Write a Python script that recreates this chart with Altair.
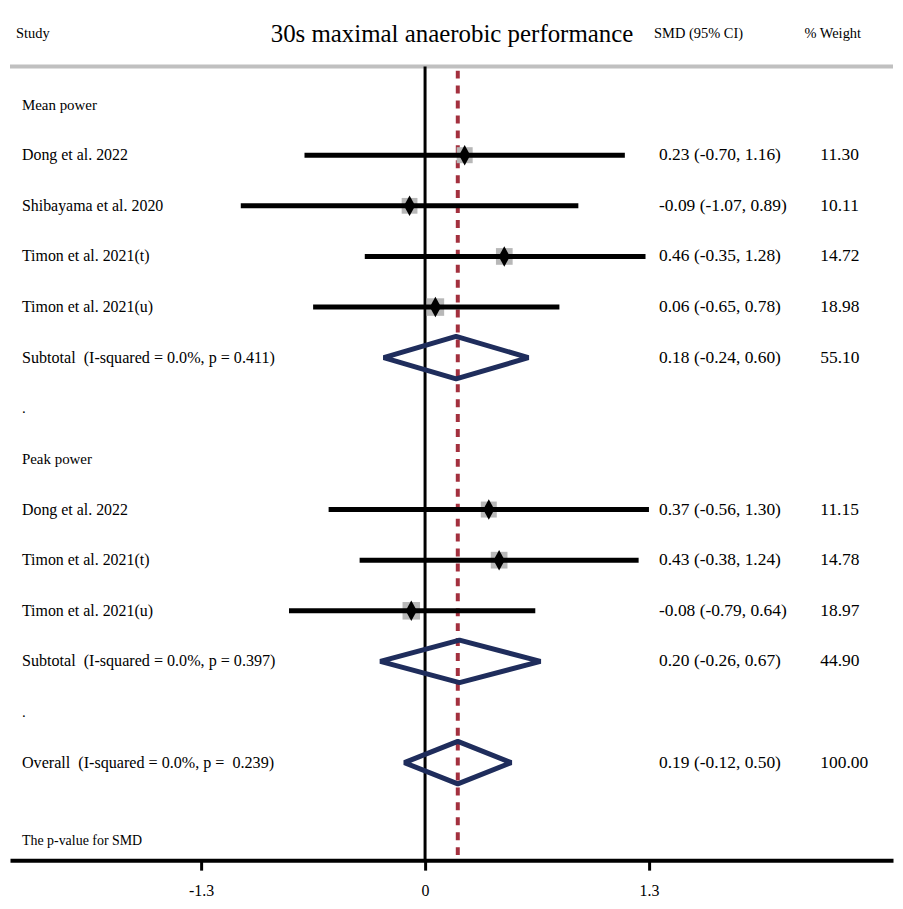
import altair as alt
import pandas as pd

FONT = "Liberation Serif"
NB = "\u00a0"

# ---- data ----
study_labels = ["Dong et al. 2022", "Shibayama et al. 2020", "Timon et al. 2021(t)", "Timon et al. 2021(u)",
                "Dong et al. 2022", "Timon et al. 2021(t)", "Timon et al. 2021(u)"]
study_rows = [2, 3, 4, 5, 9, 10, 11]
study_smd = [0.23, -0.09, 0.46, 0.06, 0.37, 0.43, -0.08]
study_lo = [-0.70, -1.07, -0.35, -0.65, -0.56, -0.38, -0.79]
study_hi = [1.16, 0.89, 1.28, 0.78, 1.30, 1.24, 0.64]
study_weight = [11.30, 10.11, 14.72, 18.98, 11.15, 14.78, 18.97]

pooled_labels = ["Subtotal" + NB + NB + "(I-squared = 0.0%, p = 0.411)",
                 "Subtotal" + NB + NB + "(I-squared = 0.0%, p = 0.397)",
                 "Overall" + NB + NB + "(I-squared = 0.0%, p =" + NB + NB + "0.239)"]
pooled_rows = [6, 12, 14]
pooled_smd = [0.18, 0.20, 0.19]
pooled_lo = [-0.24, -0.26, -0.12]
pooled_hi = [0.60, 0.67, 0.50]
pooled_weight = [55.10, 44.90, 100.00]

heading_labels = ["Mean power", ".", "Peak power", "."]
heading_rows = [1, 7, 8, 13]
footer_label = ["The p-value for SMD"]
footer_row = [15.55]

overall_smd = 0.19
tick_values = [-1.3, 0, 1.3]

# ---- layout ----
W, H = 887, 854
xscale = alt.Scale(domain=[-2.41, 2.717], nice=False, zero=False)
yscale = alt.Scale(domain=[-0.868, 15.926], nice=False, zero=False, reverse=True)
xaxis = alt.Axis(values=tick_values, title=None, grid=False, domainColor="black", domainWidth=4,
                 tickColor="black", tickWidth=3, tickSize=10, labelFont=FONT, labelFontSize=16,
                 labelColor="black", labelPadding=12, labelFlush=False,
                 labelExpr="datum.value == 0 ? '0' : (datum.value < 0 ? '-' + format(-datum.value, '.1f') : format(datum.value, '.1f'))")
HALF = 0.42

studies = pd.DataFrame(dict(label=study_labels, row=study_rows, smd=study_smd, lo=study_lo,
                            hi=study_hi, weight=study_weight))
studies["est"] = [f"{s:.2f} ({l:.2f}, {h:.2f})" for s, l, h in zip(study_smd, study_lo, study_hi)]
studies["wtxt"] = [f"{w:.2f}" for w in study_weight]

pooled = pd.DataFrame(dict(label=pooled_labels, row=pooled_rows, smd=pooled_smd, lo=pooled_lo,
                           hi=pooled_hi, weight=pooled_weight))
pooled["est"] = [f"{s:.2f} ({l:.2f}, {h:.2f})" for s, l, h in zip(pooled_smd, pooled_lo, pooled_hi)]
pooled["wtxt"] = [f"{w:.2f}" for w in pooled_weight]

poly = []
for i, (r, s, l, h) in enumerate(zip(pooled_rows, pooled_smd, pooled_lo, pooled_hi)):
    pts = [(l, r), (s, r - HALF), (h, r), (s, r + HALF), (l, r), (s, r - HALF)]
    for k, (xv, yv) in enumerate(pts):
        poly.append(dict(id=i, k=k, x=xv, row=yv))
poly = pd.DataFrame(poly)

headings = pd.DataFrame(dict(label=heading_labels, row=heading_rows))
footer = pd.DataFrame(dict(label=footer_label, row=footer_row))
vlines = pd.DataFrame(dict(x=[0.0, overall_smd], y1=[0.25, 0.33], y2=[15.926, 15.926]))

Y = lambda f="row": alt.Y(f"{f}:Q", scale=yscale, axis=None)
X = lambda f="smd": alt.X(f"{f}:Q", scale=xscale, axis=xaxis)

header_df = pd.DataFrame(dict(row=[-0.4]))

grey_line = alt.Chart(header_df).mark_rule(color="#c0c0c0", strokeWidth=4).encode(
    x=alt.value(0), x2=alt.value(W), y=alt.Y("r:Q", scale=yscale, axis=None)
).transform_calculate(r="0.25")

zero_line = alt.Chart(vlines.iloc[[0]]).mark_rule(color="black", strokeWidth=3).encode(
    x=X("x"), y=Y("y1"), y2="y2:Q")
red_line = alt.Chart(vlines.iloc[[1]]).mark_rule(color="#a3303e", strokeWidth=4, strokeDash=[8, 7]).encode(
    x=X("x"), y=Y("y1"), y2="y2:Q")

squares = alt.Chart(studies).mark_point(shape="square", filled=True, color="#b8b8b8", opacity=1).encode(
    x=X(), y=Y(), size=alt.Size("weight:Q", scale=alt.Scale(domain=[10, 19], range=[250, 310]), legend=None))
ci = alt.Chart(studies).mark_rule(color="black", strokeWidth=5).encode(x=X("lo"), x2="hi:Q", y=Y())
diamonds = alt.Chart(studies).mark_point(shape="M0,-1L0.55,0L0,1L-0.55,0Z", filled=True, color="black",
                                         opacity=1, size=420).encode(x=X(), y=Y())
pooled_d = alt.Chart(poly).mark_line(color="#1f2d5c", strokeWidth=5, strokeJoin="bevel").encode(
    x=X("x"), y=Y(), detail="id:N", order="k:Q")

def txt(df, field, xpx, size):
    return alt.Chart(df).mark_text(align="left", baseline="middle", font=FONT, fontSize=size,
                                   color="black").encode(x=alt.value(xpx), y=Y(), text=f"{field}:N")

study_txt = txt(studies, "label", 12, 16)
pooled_txt = txt(pooled, "label", 12, 16.2)
head_txt = txt(headings, "label", 12, 15)
foot_txt = txt(footer, "label", 12, 14)
est_txt = txt(studies, "est", 652, 17.5)
pest_txt = txt(pooled, "est", 652, 17.5)
w_txt = txt(studies, "wtxt", 814, 17.5)
pw_txt = txt(pooled, "wtxt", 814, 17.5)

hdr = pd.DataFrame(dict(row=[-0.4, -0.4, -0.4, -0.4],
                        label=["Study", "30s maximal anaerobic performance", "SMD (95% CI)", "% Weight"],
                        xp=[6, 444, 647, 798], al=["left", "center", "left", "left"],
                        fs=[14.5, 25, 14.5, 14.5]))
hdr_txt = alt.layer(*[
    alt.Chart(hdr.iloc[[i]]).mark_text(align=hdr.al[i], baseline="middle", font=FONT, fontSize=float(hdr.fs[i]),
                                       color="black").encode(x=alt.value(int(hdr.xp[i])), y=Y(), text="label:N")
    for i in range(len(hdr))])

chart = alt.layer(grey_line, zero_line, red_line, squares, ci, diamonds, pooled_d,
                  study_txt, pooled_txt, head_txt, foot_txt, est_txt, pest_txt, w_txt, pw_txt, hdr_txt
                  ).properties(width=W, height=H, padding=0).configure_view(strokeWidth=0)

chart.save("out.html", embed_options={"renderer": "svg", "actions": False})
